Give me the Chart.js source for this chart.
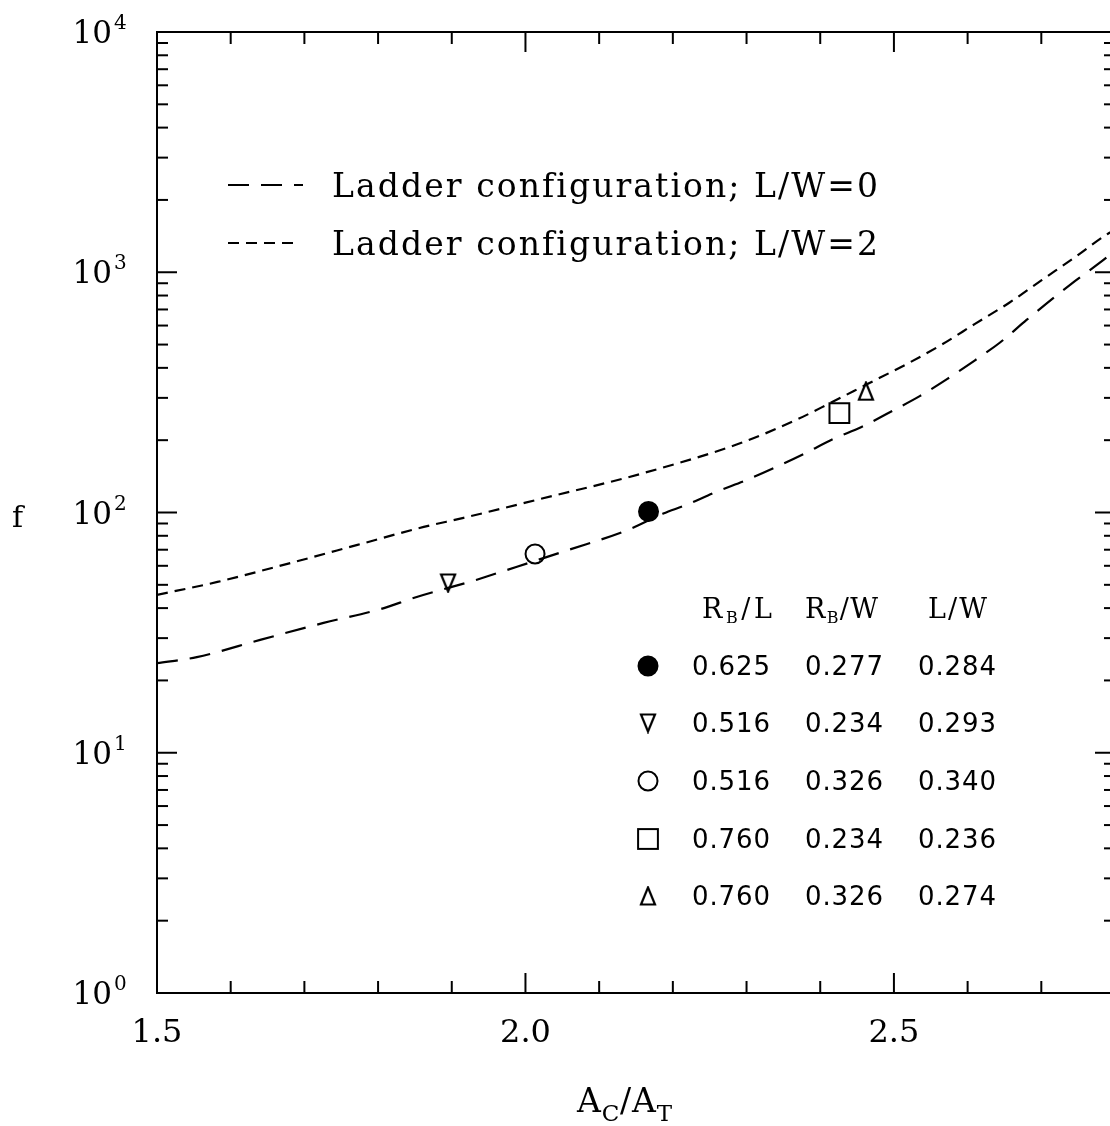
<!DOCTYPE html>
<html>
<head>
<meta charset="utf-8">
<style>
html,body{margin:0;padding:0;overflow:hidden;background:#fff;width:1110px;height:1126px}
canvas{display:block}
</style>
<script src="https://cdn.jsdelivr.net/npm/chart.js@4/dist/chart.umd.min.js"></script>
</head>
<body>
<canvas id="c" width="1116" height="1126"></canvas>
<script>
// ---------------- data ----------------
const seriesNames = ['Ladder configuration; L/W=0', 'Ladder configuration; L/W=2'];

// L/W = 0 curve (long dashes)
const curveX0 = [1.500, 1.554, 1.640, 1.726, 1.808, 1.848, 1.933, 1.973, 2.058, 2.139, 2.187, 2.218, 2.259, 2.300, 2.341, 2.379, 2.417, 2.456, 2.497, 2.535, 2.572, 2.610, 2.644, 2.680, 2.718, 2.746, 2.779, 2.800];
const curveF0 = [23.6, 25.0, 29.5, 34.7, 40.0, 44.1, 52.4, 57.4, 69.8, 84.6, 99.0, 107.5, 122, 136.5, 155, 176, 202, 227, 264, 305, 359, 430, 510, 633, 789, 920, 1093, 1230];

// L/W = 2 curve (short dashes)
const curveX1 = [1.500, 1.582, 1.681, 1.772, 1.862, 1.916, 2.021, 2.157, 2.293, 2.370, 2.413, 2.462, 2.520, 2.565, 2.610, 2.656, 2.701, 2.746, 2.792, 2.800];
const curveF1 = [45.4, 51.4, 61.6, 73.3, 87.1, 95.0, 114, 145, 195, 245, 285, 340, 419, 500, 610, 745, 929, 1157, 1457, 1500];

// measured points: filled circle, down triangle, open circle, square, up triangle
const markerX = [2.167, 1.895, 2.013, 2.426, 2.462];
const markerF = [101, 50.9, 67.2, 259, 320];

// table
const colRB_L = ['0.625', '0.516', '0.516', '0.760', '0.760'];
const colRB_W = ['0.277', '0.234', '0.326', '0.234', '0.326'];
const colL_W  = ['0.284', '0.293', '0.340', '0.236', '0.274'];

// tick labels
const xTickLabels = ['1.5', '2.0', '2.5'];
const yTickExps = ['0', '1', '2', '3', '4'];

// ---------------- styles ----------------
function triCanvas(down) {
  const c = document.createElement('canvas');
  c.width = 18; c.height = 21;
  const g = c.getContext('2d');
  g.lineWidth = 2.2; g.strokeStyle = '#000'; g.lineJoin = 'miter';
  g.beginPath();
  if (down) { g.moveTo(2, 2); g.lineTo(16, 2); g.lineTo(9, 19); }
  else { g.moveTo(9, 2); g.lineTo(16, 19); g.lineTo(2, 19); }
  g.closePath(); g.stroke();
  return c;
}
const triDown = triCanvas(true), triUp = triCanvas(false);
const markerStyles = ['circle', triDown, 'circle', 'rect', triUp];
const markerRadius = [9.5, 9, 9.5, 14, 9];
const markerFill = ['#000', 'rgba(0,0,0,0)', 'rgba(0,0,0,0)', 'rgba(0,0,0,0)', 'rgba(0,0,0,0)'];
const dashes = [[21, 12], [11, 7]];

function drawMarker(ctx, i, x, y) {
  const st = markerStyles[i];
  ctx.save();
  ctx.lineWidth = 2; ctx.strokeStyle = '#000'; ctx.fillStyle = markerFill[i];
  if (st === 'circle') {
    ctx.beginPath(); ctx.arc(x, y, markerRadius[i], 0, Math.PI * 2); ctx.fill(); ctx.stroke();
  } else if (st === 'rect') {
    const s = markerRadius[i] / Math.SQRT2;
    ctx.strokeRect(x - s, y - s, 2 * s, 2 * s);
  } else {
    ctx.drawImage(st, x - st.width / 2, y - st.height / 2);
  }
  ctx.restore();
}

// text helpers
function drawSpaced(ctx, text, left, baseline, width, font) {
  ctx.font = font;
  const chars = Array.from(text);
  let nat = 0; chars.forEach(ch => nat += ctx.measureText(ch).width);
  const s = chars.length > 1 ? (width - nat) / (chars.length - 1) : 0;
  let x = left;
  chars.forEach(ch => { ctx.fillText(ch, x, baseline); x += ctx.measureText(ch).width + s; });
}
function drawRich(ctx, segs, left, baseline, width, family) {
  let nat = 0, n = 0;
  segs.forEach(sg => { ctx.font = sg.size + 'px ' + family; Array.from(sg.t).forEach(ch => { nat += ctx.measureText(ch).width; n++; }); });
  const s = n > 1 ? (width - nat) / (n - 1) : 0;
  let x = left;
  segs.forEach(sg => {
    ctx.font = sg.size + 'px ' + family;
    Array.from(sg.t).forEach(ch => { ctx.fillText(ch, x, baseline + (sg.dy || 0)); x += ctx.measureText(ch).width + s; });
  });
}

// ---------------- decoration plugin ----------------
const decor = {
  id: 'decor',
  afterDraw(chart) {
    const ctx = chart.ctx, a = chart.chartArea, xs = chart.scales.x, ys = chart.scales.y;
    ctx.save();
    ctx.strokeStyle = '#000'; ctx.fillStyle = '#000'; ctx.lineWidth = 2; ctx.lineCap = 'butt';
    const line = (x1, y1, x2, y2) => { ctx.beginPath(); ctx.moveTo(x1, y1); ctx.lineTo(x2, y2); ctx.stroke(); };
    // frame
    ctx.strokeRect(a.left, a.top, a.right - a.left, a.bottom - a.top);
    // y ticks (log decades + minors)
    for (let d = 0; d <= 4; d++) {
      for (let k = 1; k <= 9; k++) {
        if (d === 4 && k > 1) break;
        const py = ys.getPixelForValue(k * Math.pow(10, d));
        const len = k === 1 ? 20 : 11;
        line(a.left, py, a.left + len, py);
        line(a.right - len, py, a.right, py);
      }
    }
    // x ticks every 0.1, major every 0.5
    for (let i = 0; i <= 13; i++) {
      const px = xs.getPixelForValue(1.5 + i * 0.1);
      const len = (i % 5 === 0) ? 20 : 12;
      line(px, a.bottom, px, a.bottom - len);
      line(px, a.top, px, a.top + len);
    }
    // y tick labels 10^n
    ctx.textBaseline = 'alphabetic';
    yTickExps.forEach(e => {
      const py = ys.getPixelForValue(Math.pow(10, +e));
      ctx.font = '31px "DejaVu Serif"'; ctx.textAlign = 'right';
      ctx.fillText('10', 112, py + 11);
      ctx.font = '20px "DejaVu Serif"'; ctx.textAlign = 'left';
      ctx.fillText(e, 114, py - 3);
    });
    // x tick labels
    ctx.font = '32px "DejaVu Serif"'; ctx.textAlign = 'center';
    xTickLabels.forEach(t => {
      ctx.fillText(t, xs.getPixelForValue(parseFloat(t)), 1042);
    });
    ctx.textAlign = 'left';
    // axis titles
    ctx.font = '30px "DejaVu Serif"';
    ctx.fillText('f', 12, 527);
    drawRich(ctx, [{t: 'A', size: 33}, {t: 'C', size: 23, dy: 9}, {t: '/', size: 33}, {t: 'A', size: 33}, {t: 'T', size: 23, dy: 9}],
      577, 1112, 95, '"DejaVu Serif"');
    // legend
    const legY = [185, 243], legEnd = [303, 296];
    for (let i = 0; i < 2; i++) {
      ctx.save(); ctx.setLineDash(dashes[i]); ctx.lineWidth = 2;
      line(228, legY[i], legEnd[i], legY[i]);
      ctx.restore();
      drawSpaced(ctx, seriesNames[i], 332, legY[i] + 12, 546, '33px "DejaVu Serif"');
    }
    // table header
    drawRich(ctx, [{t: 'R', size: 27}, {t: 'B', size: 16, dy: 5}, {t: '/L', size: 27}], 702, 618, 70, '"DejaVu Serif"');
    drawRich(ctx, [{t: 'R', size: 27}, {t: 'B', size: 16, dy: 5}, {t: '/W', size: 27}], 805, 618, 73, '"DejaVu Serif"');
    drawRich(ctx, [{t: 'L/W', size: 27}], 928, 618, 59, '"DejaVu Serif"');
    // table rows
    const rowY = [666, 723, 781, 839, 896];
    const cols = [colRB_L, colRB_W, colL_W], colC = [731, 844, 957];
    rowY.forEach((y, r) => {
      drawMarker(ctx, r, 648, y);
      cols.forEach((col, c) => {
        drawSpaced(ctx, col[r], colC[c] - 39, y + 9, 78, '26px "DejaVu Sans"');
      });
    });
    ctx.restore();
  }
};

// ---------------- chart ----------------
const toPts = (xs, ys) => xs.map((x, i) => ({x: x, y: ys[i]}));
new Chart(document.getElementById('c'), {
  type: 'scatter',
  data: {
    datasets: [
      {label: seriesNames[0], data: toPts(curveX0, curveF0), showLine: true, borderColor: '#000', borderWidth: 2.2,
       borderDash: dashes[0], pointRadius: 0, cubicInterpolationMode: 'monotone', fill: false},
      {label: seriesNames[1], data: toPts(curveX1, curveF1), showLine: true, borderColor: '#000', borderWidth: 2.2,
       borderDash: dashes[1], pointRadius: 0, cubicInterpolationMode: 'monotone', fill: false},
      {label: 'points', data: toPts(markerX, markerF), showLine: false,
       pointStyle: markerStyles, pointRadius: markerRadius, pointBackgroundColor: markerFill,
       pointBorderColor: '#000', pointBorderWidth: 2}
    ]
  },
  options: {
    responsive: false, animation: false, events: [],
    layout: {autoPadding: false, padding: {left: 157, right: 1, top: 32, bottom: 133}},
    plugins: {legend: {display: false}, tooltip: {enabled: false}, title: {display: false}},
    scales: {
      x: {type: 'linear', display: false, min: 1.5, max: 2.8},
      y: {type: 'logarithmic', display: false, min: 1, max: 10000}
    }
  },
  plugins: [decor]
});
</script>
</body>
</html>
